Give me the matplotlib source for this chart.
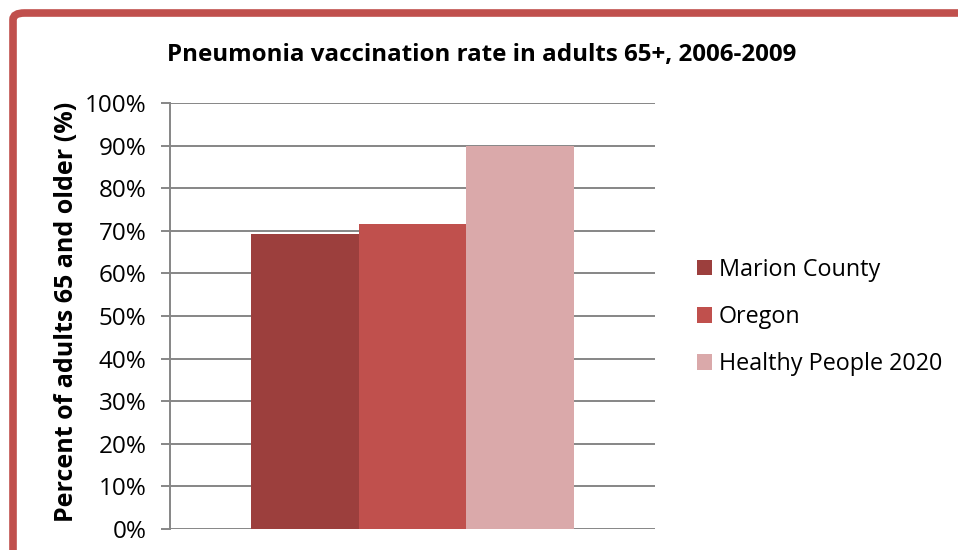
import matplotlib.pyplot as plt
from matplotlib.patches import FancyBboxPatch
from matplotlib.ticker import FuncFormatter

# data
series = ['Marion County', 'Oregon', 'Healthy People 2020']
values = [69.2, 71.6, 90.0]
colors = ['#9C3F3D', '#C0504D', '#DAA9AA']
title = 'Pneumonia vaccination rate in adults 65+, 2006-2009'
ylabel = 'Percent of adults 65 and older (%)'

plt.rcParams['font.family'] = ['Open Sans', 'DejaVu Sans']

W, H = 958, 550
fig = plt.figure(figsize=(W / 100, H / 100), dpi=100)

# red frame (top and left visible)
frame = FancyBboxPatch((13 / W, -0.2), 1.2, (H - 13) / H + 0.2,
                       boxstyle='round,pad=0,rounding_size=0.012',
                       transform=fig.transFigure, fill=False,
                       edgecolor='#C0504D', linewidth=5.5, zorder=0)
fig.patches.append(frame)

ax = fig.add_axes([170 / W, (H - 529) / H, (655 - 170) / W, (529 - 103) / H])

w = 1 / 4.5
offsets = [-w, 0, w]
for name, v, c, off in zip(series, values, colors, offsets):
    ax.bar(off, v, width=w, color=c, label=name, zorder=2)

ax.set_xlim(-0.5, 0.5)
ax.set_ylim(0, 100)
ax.set_yticks(range(0, 101, 10))
ax.yaxis.set_major_formatter(FuncFormatter(lambda v, p: '{:.0f}%'.format(v)))
ax.set_xticks([])
ax.grid(axis='y', color='#868686', linewidth=1.4, zorder=0)
ax.set_axisbelow(True)
for s in ['top', 'right', 'bottom']:
    ax.spines[s].set_visible(False)
ax.spines['left'].set_color('#868686')
ax.spines['left'].set_linewidth(1.4)
ax.tick_params(axis='y', length=6.5, width=1.4, color='#868686',
               labelsize=17.5, pad=10.5)

ax.set_ylabel(ylabel, fontsize=18, fontweight='bold', va='center')
ax.yaxis.set_label_coords((67 - 170) / (655 - 170), 0.51)
fig.text(482 / W, 1 - 55 / H, title, ha='center', va='center',
         fontsize=17.4, fontweight='bold')

ax.legend(loc='center left', bbox_to_anchor=(676 / W, 1 - 317 / H),
          bbox_transform=fig.transFigure, frameon=False, fontsize=16.8,
          handlelength=0.64, handleheight=0.64, handletextpad=0.3,
          labelspacing=1.0)

fig.savefig('out.png', dpi=100)
